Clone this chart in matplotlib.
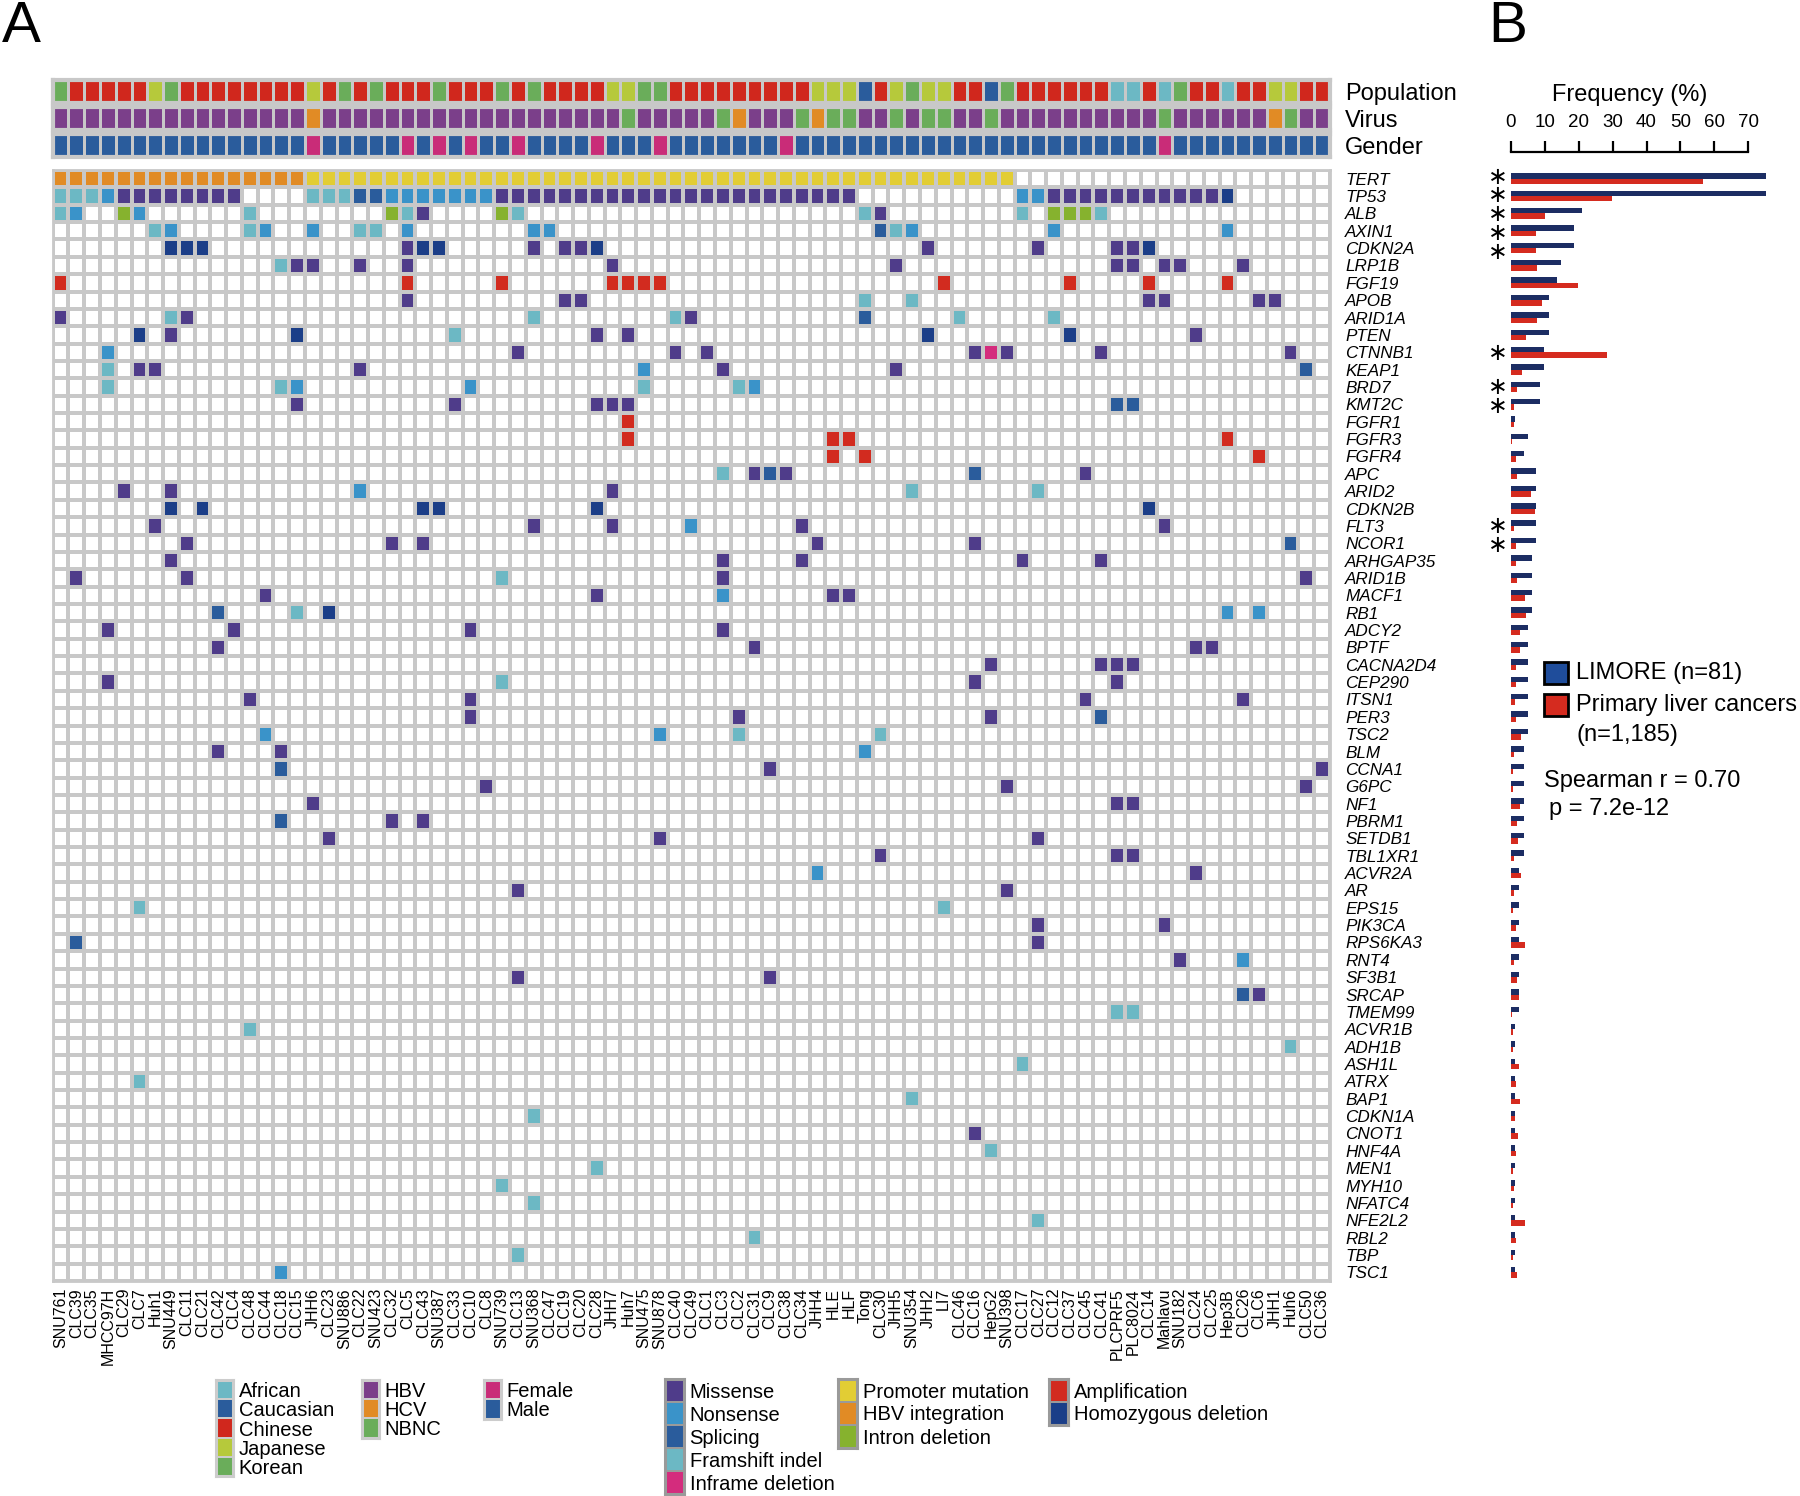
import numpy as np
import matplotlib
matplotlib.use('Agg')
import matplotlib.pyplot as plt
from matplotlib.colors import ListedColormap
from matplotlib.patches import Rectangle
from matplotlib.font_manager import FontProperties

plt.rcParams['font.family'] = ['Liberation Sans', 'DejaVu Sans']

# samples (columns of panel A)
samples = ['SNU761', 'CLC39', 'CLC35', 'MHCC97H', 'CLC29', 'CLC7', 'Huh1', 'SNU449', 'CLC11', 'CLC21',
           'CLC42', 'CLC4', 'CLC48', 'CLC44', 'CLC18', 'CLC15', 'JHH6', 'CLC23', 'SNU886', 'CLC22',
           'SNU423', 'CLC32', 'CLC5', 'CLC43', 'SNU387', 'CLC33', 'CLC10', 'CLC8', 'SNU739', 'CLC13',
           'SNU368', 'CLC47', 'CLC19', 'CLC20', 'CLC28', 'JHH7', 'Huh7', 'SNU475', 'SNU878', 'CLC40',
           'CLC49', 'CLC1', 'CLC3', 'CLC2', 'CLC31', 'CLC9', 'CLC38', 'CLC34', 'JHH4', 'HLE',
           'HLF', 'Tong', 'CLC30', 'JHH5', 'SNU354', 'JHH2', 'LI7', 'CLC46', 'CLC16', 'HepG2',
           'SNU398', 'CLC17', 'CLC27', 'CLC12', 'CLC37', 'CLC45', 'CLC41', 'PLCPRF5', 'PLC8024', 'CLC14',
           'Mahlavu', 'SNU182', 'CLC24', 'CLC25', 'Hep3B', 'CLC26', 'CLC6', 'JHH1', 'Huh6', 'CLC50',
           'CLC36']

# F African, W Caucasian, C Chinese, J Japanese, K Korean
population = ('KCCCCCJKCC' 'CCCCCCJCKC' 'KCCCKCCCKC' 'KCCCCJJKKC' 'CCCCCCCCJJ'
              'JWCJKJJCCW' 'KCCCCCCFFC' 'FKCCFCCJJC' 'C')
# B HBV, V HCV, N NBNC
virus = ('BBBBBBBBBB' 'BBBBBBVBBB' 'BBBBBBBBBB' 'BBBBBBNBBB' 'BBNVBBBNVN'
         'NBBNBNNBBN' 'BBBBBBBBBB' 'NBBBBBBVNB' 'B')
# F female, M male
gender = ('MMMMMMMMMM' 'MMMMMMFMMM' 'MMFMFMFMMF' 'MMMMFMMMFM' 'MMMMMMFMMM'
          'MMMMMMMMMM' 'MMMMMMMMMM' 'FMMMMMMMMM' 'M')

genes = ['TERT', 'TP53', 'ALB', 'AXIN1', 'CDKN2A', 'LRP1B', 'FGF19', 'APOB', 'ARID1A', 'PTEN',
         'CTNNB1', 'KEAP1', 'BRD7', 'KMT2C', 'FGFR1', 'FGFR3', 'FGFR4', 'APC', 'ARID2', 'CDKN2B',
         'FLT3', 'NCOR1', 'ARHGAP35', 'ARID1B', 'MACF1', 'RB1', 'ADCY2', 'BPTF', 'CACNA2D4', 'CEP290',
         'ITSN1', 'PER3', 'TSC2', 'BLM', 'CCNA1', 'G6PC', 'NF1', 'PBRM1', 'SETDB1', 'TBL1XR1',
         'ACVR2A', 'AR', 'EPS15', 'PIK3CA', 'RPS6KA3', 'RNT4', 'SF3B1', 'SRCAP', 'TMEM99', 'ACVR1B',
         'ADH1B', 'ASH1L', 'ATRX', 'BAP1', 'CDKN1A', 'CNOT1', 'HNF4A', 'MEN1', 'MYH10', 'NFATC4',
         'NFE2L2', 'RBL2', 'TBP', 'TSC1']

# alteration type + sample index (or range); M missense, N nonsense, S splicing,
# F framshift indel, I inframe deletion, P promoter mutation, H HBV integration,
# D intron deletion, A amplification, X homozygous deletion
alterations = [
    'H0-15 P16-60',
    'F0-2 N3 M4-11 F16-18 S19-20 N21-27 M28-50 N61-62 M63-73 X74',
    'F0 N1 D4 N5 F12 D21 F22 M23 D28 F29 F51 M52 F61 D63-65 F66',
    'F6 N7 F12 N13 N16 F19-20 N22 N30-31 S52 F53 N54 N63 N74',
    'X7-9 M22 X23-24 M30 M32-33 X34 M55 M62 M67-68 X69',
    'F14 M15-16 M19 M22 M35 M53 M67-68 M70-71 M75',
    'A0 A22 A28 A35-38 A56 A64 A69 A74',
    'M22 M32-33 F51 F54 M69-70 M76-77',
    'M0 F7 M8 F30 F39 M40 S51 F57 F63',
    'X5 M7 X15 F25 M34 M36 X55 X64 M72',
    'N3 M29 M39 M41 M58 I59 M60 M66 M78',
    'F3 M5-6 M19 N37 M42 M53 S79',
    'F3 F14 N15 N26 F37 F43 N44',
    'M15 M25 M34-36 S67-68',
    'A36',
    'A36 A49-50 A74',
    'A49 A51 A76',
    'F42 M44 S45 M46 S58 M65',
    'M4 M7 N19 M35 F54 F62',
    'X7 X9 X23-24 X34 X69',
    'M6 M30 M35 N40 M47 M70',
    'M8 M21 M23 M48 M58 S78',
    'M7 M42 M47 M61 M66',
    'M1 M8 F28 M42 M79',
    'M13 M34 N42 M49-50',
    'S10 F15 X17 N74 N76',
    'M3 M11 M26 M42',
    'M10 M44 M72-73',
    'M59 M66-68',
    'M3 F28 M58 M67',
    'M12 M26 M65 M75',
    'M26 M43 M59 S66',
    'N13 N38 F43 F52',
    'M10 M14 N51',
    'S14 M45 M80',
    'M27 M60 M79',
    'M16 M67-68',
    'S14 M21 M23',
    'M17 M38 M62',
    'M52 M67-68',
    'N48 M72',
    'M29 M60',
    'F5 F56',
    'M62 M70',
    'S1 M62',
    'M71 N75',
    'M29 M45',
    'S75 M76',
    'F67-68',
    'F12', 'F78', 'F61', 'F5', 'F54', 'F30', 'M58', 'F59', 'F34', 'F28', 'F30', 'F62', 'F44', 'F29', 'N14',
]

# panel B: altered LIMORE lines (of 81) and frequency in primary liver cancers (%)
limore_n = [61, 61, 17, 15, 15, 12, 11, 9, 9, 9, 8, 8, 7, 7, 1, 4, 3, 6, 6, 6,
            6, 6, 5, 5, 5, 5, 4, 4, 4, 4, 4, 4, 4, 3, 3, 3, 3, 3, 3, 3,
            2, 2, 2, 2, 2, 2, 2, 2, 2, 1, 1, 1, 1, 1, 1, 1, 1, 1, 1, 1,
            1, 1, 1, 1]
primary_pct = [56.6, 29.7, 10.0, 7.3, 7.3, 7.8, 19.9, 9.2, 7.6, 4.5,
               28.2, 3.3, 1.9, 0.8, 0.8, 0.4, 1.5, 1.9, 5.9, 7.1,
               1.0, 1.6, 1.5, 1.8, 4.0, 4.3, 2.7, 2.6, 1.4, 1.6,
               1.2, 1.6, 3.0, 0.9, 0.5, 0.5, 2.8, 1.7, 2.0, 0.8,
               3.0, 0.8, 0.7, 1.6, 4.1, 1.0, 1.8, 2.5, 0.2, 0.6,
               0.6, 2.3, 1.5, 2.8, 1.3, 2.0, 1.6, 0.5, 1.0, 0.6,
               4.0, 1.5, 0.5, 1.8]
significant = ['TERT', 'TP53', 'ALB', 'AXIN1', 'CDKN2A', 'CTNNB1', 'BRD7', 'KMT2C', 'FLT3', 'NCOR1']
freq_ticks = [0, 10, 20, 30, 40, 50, 60, 70]

# colours
mut_codes = '.MNSFIPHDAX'
mut_colors = ['white', '#4f3c8a', '#3a93c9', '#2a5c9c', '#6cb8c4', '#d42c7d',
              '#e2cd34', '#e18b25', '#86b22e', '#d22b1f', '#1b3e88']
pop_colors = {'F': '#6cb8c4', 'W': '#2a5c9c', 'C': '#d0271d', 'J': '#b6c93b', 'K': '#6aad5a'}
virus_colors = {'B': '#7b3f8a', 'V': '#e18b25', 'N': '#6aad5a'}
gender_colors = {'F': '#c92c78', 'M': '#2a5c9c'}
grid_gray = '#c8c8c8'

W, H = 1800, 1496
fig = plt.figure(figsize=(W / 100, H / 100), dpi=100)


def px_axes(x0, y0, x1, y1):
    return fig.add_axes([x0 / W, 1 - y1 / H, (x1 - x0) / W, (y1 - y0) / H])


def px_text(x, y, s, **kw):
    fig.text(x / W, 1 - y / H, s, **kw)


n_s, n_g = len(samples), len(genes)
assert len(population) == n_s and len(virus) == n_s and len(gender) == n_s
assert len(alterations) == n_g and len(limore_n) == n_g and len(primary_pct) == n_g

mat = np.zeros((n_g, n_s), dtype=int)
for g, row in enumerate(alterations):
    for tok in row.split():
        code, rng = mut_codes.index(tok[0]), tok[1:]
        a, b = rng.split('-') if '-' in rng else (rng, rng)
        mat[g, int(a):int(b) + 1] = code

GX0, GX1, GY0, GY1 = 52.7, 1330, 170, 1281

# ---- main oncoprint
ax = px_axes(GX0, GY0, GX1, GY1)
ax.pcolormesh(np.arange(n_s + 1) - 0.5, np.arange(n_g + 1) - 0.5, mat,
              cmap=ListedColormap(mut_colors), vmin=-0.5, vmax=len(mut_colors) - 0.5,
              edgecolors=grid_gray, linewidth=1.6)
ax.set_xlim(-0.5, n_s - 0.5)
ax.set_ylim(n_g - 0.5, -0.5)
ax.set_xticks(range(n_s), samples, rotation=90, fontsize=11.5)
ax.set_yticks(range(n_g), genes, fontsize=12.3, fontstyle='italic')
ax.tick_params(axis='x', length=0, pad=5)
ax.tick_params(axis='y', length=0, pad=11, left=False, labelleft=False, labelright=True)
for s in ax.spines.values():
    s.set_color(grid_gray)
    s.set_linewidth(2)


# ---- annotation strips
def annot_strip(y0, y1, codes, palette, label):
    sax = px_axes(GX0, y0, GX1, y1)
    keys = list(palette)
    vals = np.array([[keys.index(c) for c in codes]])
    sax.pcolormesh(np.arange(n_s + 1) - 0.5, [-0.5, 0.5], vals,
                   cmap=ListedColormap(list(palette.values())), vmin=-0.5, vmax=len(keys) - 0.5,
                   edgecolors=grid_gray, linewidth=1.8)
    sax.set_xlim(-0.5, n_s - 0.5)
    sax.set_ylim(0.5, -0.5)
    sax.set_xticks([])
    sax.set_yticks([0], [label], fontsize=17)
    sax.tick_params(axis='y', length=0, pad=11, left=False, labelleft=False, labelright=True)
    for s in sax.spines.values():
        s.set_color(grid_gray)
        s.set_linewidth(3)


annot_strip(80, 103, population, pop_colors, 'Population')
annot_strip(107, 130, virus, virus_colors, 'Virus')
annot_strip(134, 157, gender, gender_colors, 'Gender')


# ---- legends below the oncoprint
def legend_strip(x0, y0, x1, y1, colors, labels, frame):
    lax = px_axes(x0, y0, x1, y1)
    n = len(colors)
    lax.pcolormesh([-0.5, 0.5], np.arange(n + 1) - 0.5, np.arange(n).reshape(n, 1),
                   cmap=ListedColormap(colors), vmin=-0.5, vmax=n - 0.5,
                   edgecolors=frame, linewidth=1.3)
    lax.set_xlim(-0.5, 0.5)
    lax.set_ylim(n - 0.5, -0.5)
    lax.set_xticks([])
    lax.set_yticks(range(n), labels, fontsize=14.5)
    lax.tick_params(axis='y', length=0, pad=4, left=False, labelleft=False, labelright=True)
    for s in lax.spines.values():
        s.set_color(frame)
        s.set_linewidth(2.2)


legend_strip(216, 1380, 233, 1476, list(pop_colors.values()),
             ['African', 'Caucasian', 'Chinese', 'Japanese', 'Korean'], '#cccccc')
legend_strip(362, 1380, 379, 1437.5, list(virus_colors.values()), ['HBV', 'HCV', 'NBNC'], '#cccccc')
legend_strip(484, 1380, 501, 1418.5, list(gender_colors.values()), ['Female', 'Male'], '#cccccc')
legend_strip(665, 1378.5, 684, 1494, mut_colors[1:6],
             ['Missense', 'Nonsense', 'Splicing', 'Framshift indel', 'Inframe deletion'], '#9a9a9a')
legend_strip(838, 1378.5, 857, 1447.5, mut_colors[6:9],
             ['Promoter mutation', 'HBV integration', 'Intron deletion'], '#9a9a9a')
legend_strip(1049, 1378.5, 1068, 1424.5, mut_colors[9:11],
             ['Amplification', 'Homozygous deletion'], '#9a9a9a')

# ---- panel B: frequency bars
bx = px_axes(1511, GY0, 1782, GY1)
y = np.arange(n_g)
limore_pct = np.array(limore_n) / 81 * 100
bx.barh(y - 0.155, limore_pct, height=0.31, color='#1c2d63')
bx.barh(y + 0.155, primary_pct, height=0.31, color='#d52b1f')
bx.set_xlim(0, 80)
bx.set_ylim(n_g - 0.5, -0.5)
for side in ['left', 'right', 'bottom']:
    bx.spines[side].set_visible(False)
bx.spines['top'].set_position(('outward', 13))
bx.spines['top'].set_bounds(0, 70)
bx.spines['top'].set_linewidth(1.6)
bx.xaxis.tick_top()
bx.set_xticks(freq_ticks)
bx.tick_params(axis='x', length=8, width=1.6, labelsize=13.5, pad=7)
bx.set_yticks([])
bx.annotate('Frequency (%)', xy=(35, 1), xycoords=('data', 'axes fraction'),
            xytext=(0, 54), textcoords='offset points', ha='center', va='center', fontsize=17)

# significance marks: one text per run of adjacent genes, lines spaced one row apart
star_fp = FontProperties(family='DejaVu Sans', size=17)
renderer = fig.canvas.get_renderer()
row_px = (GY1 - GY0) / n_g
rows = sorted(genes.index(g) for g in significant)
runs = [[rows[0]]]
for r in rows[1:]:
    if r == runs[-1][-1] + 1:
        runs[-1].append(r)
    else:
        runs.append([r])
for run in runs:
    t = bx.text(-4, np.mean(run) + 0.04, '\n'.join(['\u2217'] * len(run)), fontproperties=star_fp,
                ha='center', va='center', multialignment='center', linespacing=1.0)
    if len(run) > 1:
        # measure the line pitch matplotlib actually uses and rescale it to one row
        one = bx.text(0, 0, '\u2217', fontproperties=star_fp)
        h1 = one.get_window_extent(renderer).height
        one.remove()
        pitch = (t.get_window_extent(renderer).height - h1) / (len(run) - 1)
        t.set_linespacing(row_px / pitch)

# bar legend and statistics
for y0, col in [(662, '#1f4d9b'), (694, '#d52b1f')]:
    fig.add_artist(Rectangle((1544 / W, 1 - (y0 + 22) / H), 24 / W, 22 / H,
                             transform=fig.transFigure, facecolor=col, edgecolor='black', linewidth=2))
px_text(1576, 673, 'LIMORE (n=81)', fontsize=17, va='center')
px_text(1576, 705, 'Primary liver cancers', fontsize=17, va='center')
px_text(1576, 735, '(n=1,185)', fontsize=17, va='center')
px_text(1544, 781, 'Spearman r = 0.70', fontsize=17, va='center')
px_text(1549, 809, 'p = 7.2e-12', fontsize=17, va='center')

# panel letters
px_text(2, 0, 'A', fontsize=42, va='top')
px_text(1488, 0, 'B', fontsize=42, va='top')

fig.savefig('out.png', dpi=100)
